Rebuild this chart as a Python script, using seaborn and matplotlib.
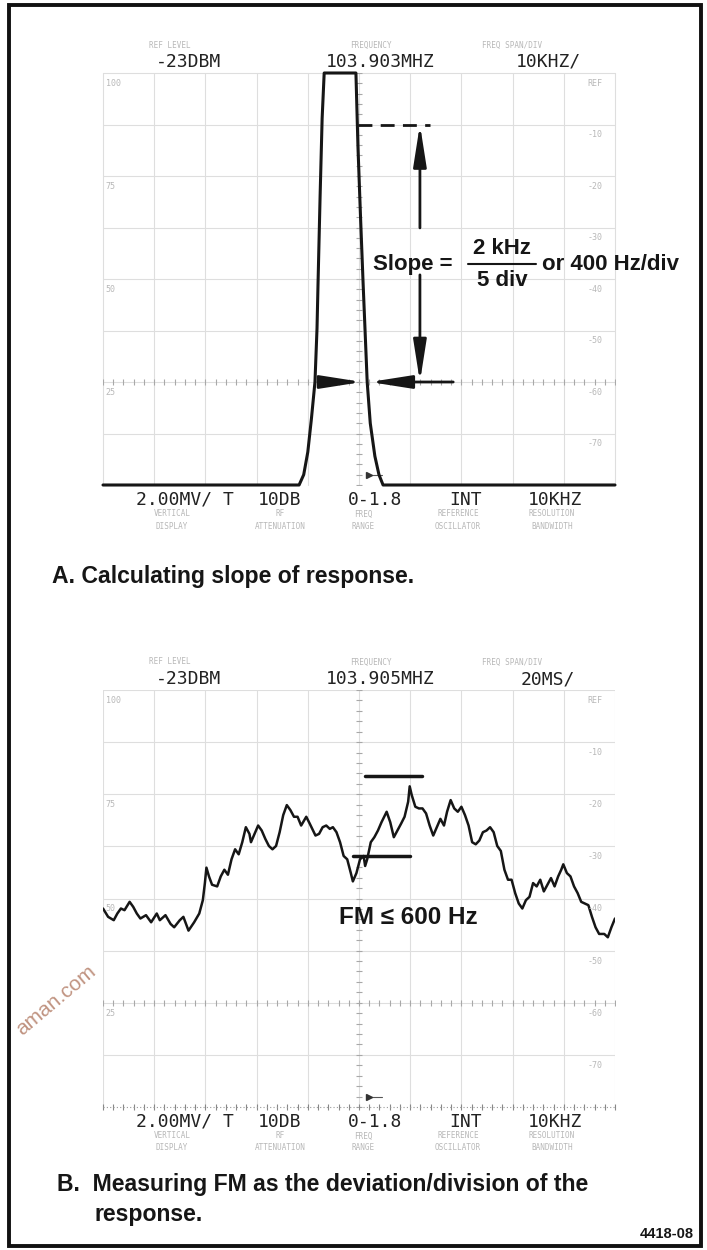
import numpy as np
import matplotlib
matplotlib.use("Agg")
import matplotlib.pyplot as plt
import seaborn as sns
from matplotlib.patches import Rectangle

sns.set_theme(style="white")
plt.rcParams["font.family"] = ["Liberation Sans", "DejaVu Sans"]

# ---- data (x in graticule divisions, y in % of screen height) ----
# A: swept filter response used to read the slope
slope_x = [0.0, 3.83, 3.92, 4.00, 4.07, 4.14, 4.18, 4.20, 4.24, 4.28, 4.32,
           4.94, 4.98, 5.03, 5.08, 5.12, 5.16, 5.22, 5.31, 5.39, 5.47, 10.0]
slope_y = [0, 0, 2.5, 8, 16, 25, 38, 49, 70, 89, 100,
           100, 82, 65, 49, 37, 25, 15, 7, 2.5, 0, 0]
slope_top = 87.5      # dashed reference level
slope_cross = 25.0    # level where slope is measured

# B: demodulated FM seen in zero span
fm_x = [0.00, 0.10, 0.21, 0.28, 0.35, 0.42, 0.52, 0.59, 0.66, 0.73, 0.84, 0.94,
        1.05, 1.11, 1.22, 1.32, 1.39, 1.50, 1.57, 1.67, 1.78, 1.88, 1.95, 1.99,
        2.02, 2.07, 2.13, 2.23, 2.30, 2.37, 2.44, 2.51, 2.58, 2.65, 2.72, 2.79,
        2.86, 2.89, 2.96, 3.03, 3.10, 3.17, 3.24, 3.31, 3.38, 3.45, 3.52, 3.59,
        3.66, 3.73, 3.80, 3.87, 3.97, 4.04, 4.15, 4.22, 4.29, 4.36, 4.43, 4.49,
        4.56, 4.63, 4.70, 4.77, 4.84, 4.88, 4.95, 5.02, 5.09, 5.12, 5.16, 5.23,
        5.30, 5.37, 5.44, 5.54, 5.61, 5.68, 5.75, 5.82, 5.89, 5.96, 5.99, 6.03,
        6.10, 6.17, 6.24, 6.31, 6.38, 6.45, 6.52, 6.59, 6.66, 6.72, 6.79, 6.86,
        6.93, 7.00, 7.07, 7.14, 7.21, 7.28, 7.35, 7.42, 7.49, 7.56, 7.63, 7.70,
        7.77, 7.84, 7.91, 7.98, 8.05, 8.12, 8.19, 8.26, 8.33, 8.40, 8.47, 8.54,
        8.61, 8.68, 8.75, 8.82, 8.89, 8.95, 8.99, 9.06, 9.13, 9.20, 9.27, 9.34,
        9.41, 9.48, 9.55, 9.62, 9.69, 9.79, 9.86, 9.93, 10.00]
fm_y = [47.6, 45.6, 44.8, 46.4, 47.6, 47.2, 49.2, 48.0, 46.4, 45.2, 46.0, 44.3,
        46.4, 44.8, 46.0, 43.9, 43.1, 44.8, 45.6, 42.3, 44.3, 46.4, 49.6, 53.7,
        57.4, 55.3, 53.3, 52.9, 55.3, 56.9, 55.7, 59.4, 61.8, 60.6, 63.5, 67.1,
        65.5, 63.5, 65.5, 67.5, 66.3, 64.3, 62.6, 61.8, 62.6, 65.9, 70.0, 72.4,
        71.2, 69.6, 69.6, 67.5, 69.6, 67.9, 65.1, 65.5, 67.1, 67.5, 66.7, 67.1,
        65.9, 63.5, 60.2, 59.4, 56.1, 54.1, 56.1, 59.4, 60.2, 57.8, 59.4, 63.5,
        64.7, 66.3, 68.3, 70.8, 68.3, 64.7, 66.3, 67.9, 69.6, 73.2, 76.9, 74.8,
        72.0, 71.6, 71.6, 70.4, 67.5, 65.1, 67.1, 69.1, 67.5, 70.8, 73.6, 71.6,
        70.8, 72.0, 70.0, 67.5, 63.5, 63.0, 63.9, 65.9, 66.3, 67.1, 65.9, 62.6,
        61.4, 56.9, 54.5, 54.5, 51.3, 48.8, 47.6, 49.6, 50.4, 53.7, 52.9, 54.5,
        51.7, 53.3, 54.9, 52.9, 55.3, 56.9, 58.2, 56.1, 55.3, 52.9, 51.3, 49.2,
        48.8, 48.4, 45.6, 43.1, 41.5, 41.5, 40.7, 43.1, 45.2]
fm_peak = ([5.12, 6.24], 79.3)
fm_dip = ([4.88, 5.99], 60.2)

left_scale = ["100", "75", "50", "25"]
left_levels = [100, 75, 50, 25]
right_scale = ["REF", "-10", "-20", "-30", "-40", "-50", "-60", "-70"]
right_levels = [100, 87.5, 75, 62.5, 50, 37.5, 25, 12.5]

top_labels = ["REF LEVEL", "FREQUENCY", "FREQ SPAN/DIV"]
top_values_a = ["-23DBM", "103.903MHZ", "10KHZ/"]
top_values_b = ["-23DBM", "103.905MHZ", "20MS/"]
bottom_values = ["2.00MV/ T", "10DB", "0-1.8", "INT", "10KHZ"]
bottom_labels = [("VERTICAL", "DISPLAY"), ("RF", "ATTENUATION"), ("FREQ", "RANGE"),
                 ("REFERENCE", "OSCILLATOR"), ("RESOLUTION", "BANDWIDTH")]

# ---- layout ----
W, H = 707, 1250
fig = plt.figure(figsize=(W / 100, H / 100), dpi=100)
fig.patch.set_facecolor("white")

def fx(x):
    return x / W

def fy(y):
    return 1 - y / H

ink = "#161616"
grid_c = "#dedede"
faint = "#b8b8b8"
lcd = ["Liberation Sans Narrow", "DejaVu Sans Mono"]


def panel(top, bottom, dotted_base):
    ax = fig.add_axes([fx(103), fy(bottom), fx(615) - fx(103), fy(top) - fy(bottom)])
    ax.set_xlim(0, 10)
    ax.set_ylim(0, 100)
    ax.axis("off")
    for xv in range(11):
        ax.axvline(xv, color=grid_c, lw=0.8, zorder=0)
    for yv in np.arange(12.5, 101, 12.5):
        ax.axhline(yv, color=grid_c, lw=0.8, zorder=0)
    ax.scatter(np.full(41, 5.0), np.arange(0, 100.1, 2.5), marker="_", s=14,
               color="#a8a8a8", lw=0.8, zorder=1)
    ax.scatter(np.arange(0, 10.01, 0.2), np.full(51, 25.0), marker="|", s=14,
               color="#a8a8a8", lw=0.8, zorder=1)
    if dotted_base:
        ax.plot([0, 10], [0, 0], color="#9a9a9a", lw=0.8, ls=(0, (1, 2)), clip_on=False)
        ax.scatter(np.arange(0, 10.01, 0.2), np.zeros(51), marker="|", s=16,
                   color="#888888", lw=0.8, zorder=1, clip_on=False)
    for lab, lv in zip(left_scale, left_levels):
        ax.text(0.05, lv - 2.5, lab, fontsize=6, color=faint, ha="left", va="center",
                family=lcd)
    for lab, lv in zip(right_scale, right_levels):
        ax.text(9.75, lv - 2.5, lab, fontsize=6, color=faint, ha="right", va="center",
                family=lcd)
    ax.plot([5.2, 5.45], [2.5, 2.5], color="#555", lw=0.8)
    ax.plot([5.2], [2.5], marker=">", ms=4, color="#333")
    return ax


def header(top, values):
    xs_lab = [170, 371, 512]
    xs_val = [188, 380, 548]
    for x, lab in zip(xs_lab, top_labels):
        fig.text(fx(x), fy(top - 28), lab, fontsize=5.5, color=faint, ha="center",
                 va="center", family=lcd)
    for x, val in zip(xs_val, values):
        fig.text(fx(x), fy(top - 11), val, fontsize=13, color="#222", ha="center",
                 va="center", family=lcd)


def footer(base):
    xs = [185, 280, 375, 466, 555]
    xs_lab = [172, 280, 363, 458, 552]
    for x, val in zip(xs, bottom_values):
        fig.text(fx(x), fy(base + 15), val, fontsize=13, color="#222", ha="center",
                 va="center", family=lcd)
    for x, (l1, l2) in zip(xs_lab, bottom_labels):
        fig.text(fx(x), fy(base + 29), l1, fontsize=5.5, color=faint, ha="center",
                 va="center", family=lcd)
        fig.text(fx(x), fy(base + 41), l2, fontsize=5.5, color=faint, ha="center",
                 va="center", family=lcd)


# ---- panel A ----
axA = panel(73, 485, dotted_base=False)
header(73, top_values_a)
footer(485)
sns.lineplot(x=slope_x, y=slope_y, ax=axA, color=ink, lw=2.2, estimator=None, sort=False)
for ln in axA.lines:
    ln.set_clip_on(False)
axA.plot([4.98, 6.39], [slope_top, slope_top], color=ink, lw=2, ls=(0, (5, 3)))
arrow = dict(arrowstyle="-|>,head_length=1.4,head_width=0.22", color=ink, lw=2,
             mutation_scale=18, shrinkA=0, shrinkB=0)
axA.annotate("", xy=(6.19, slope_top), xytext=(6.19, 62.4), arrowprops=arrow)
axA.annotate("", xy=(6.19, slope_cross), xytext=(6.19, 51.0), arrowprops=arrow)
axA.annotate("", xy=(5.06, slope_cross), xytext=(4.20, slope_cross), arrowprops=arrow)
axA.annotate("", xy=(5.21, slope_cross), xytext=(6.84, slope_cross), arrowprops=arrow)

bold = dict(fontweight="bold", color=ink, va="center")
fig.text(fx(373), fy(264), "Slope =", fontsize=16, ha="left", **bold)
fig.text(fx(502), fy(248), "2 kHz", fontsize=16, ha="center", **bold)
fig.lines.append(plt.Line2D([fx(468), fx(536)], [fy(264), fy(264)], color=ink, lw=1.5,
                            transform=fig.transFigure))
fig.text(fx(502), fy(281), "5 div", fontsize=16, ha="center", **bold)
fig.text(fx(542), fy(264), "or 400 Hz/div", fontsize=16, ha="left", **bold)

fig.text(fx(52), fy(577), "A. Calculating slope of response.", fontsize=16.6, ha="left", **bold)

# ---- panel B ----
axB = panel(690, 1107, dotted_base=True)
header(690, top_values_b)
footer(1107)
sns.lineplot(x=fm_x, y=fm_y, ax=axB, color=ink, lw=1.8, estimator=None, sort=False)
axB.plot(fm_peak[0], [fm_peak[1]] * 2, color=ink, lw=2.5)
axB.plot(fm_dip[0], [fm_dip[1]] * 2, color=ink, lw=2.5)
fig.text(fx(408), fy(918), "FM \u2264 600 Hz", fontsize=17.5, ha="center", **bold)

fig.text(fx(57), fy(1185), "B.  Measuring FM as the deviation/division of the",
         fontsize=16.6, ha="left", **bold)
fig.text(fx(94), fy(1215), "response.", fontsize=16.6, ha="left", **bold)
fig.text(fx(694), fy(1234), "4418-08", fontsize=10.5, ha="right", **bold)

# faint watermark and page frame
fig.text(fx(56), fy(1000), "aman.com", fontsize=15, rotation=40, color="#b5806a",
         ha="center", va="center", alpha=0.85)
fig.patches.append(Rectangle((fx(9), fy(1246)), fx(701) - fx(9), fy(5) - fy(1246),
                             transform=fig.transFigure, fill=False, lw=2.8,
                             edgecolor="#111"))

fig.savefig("out.png", dpi=100)
